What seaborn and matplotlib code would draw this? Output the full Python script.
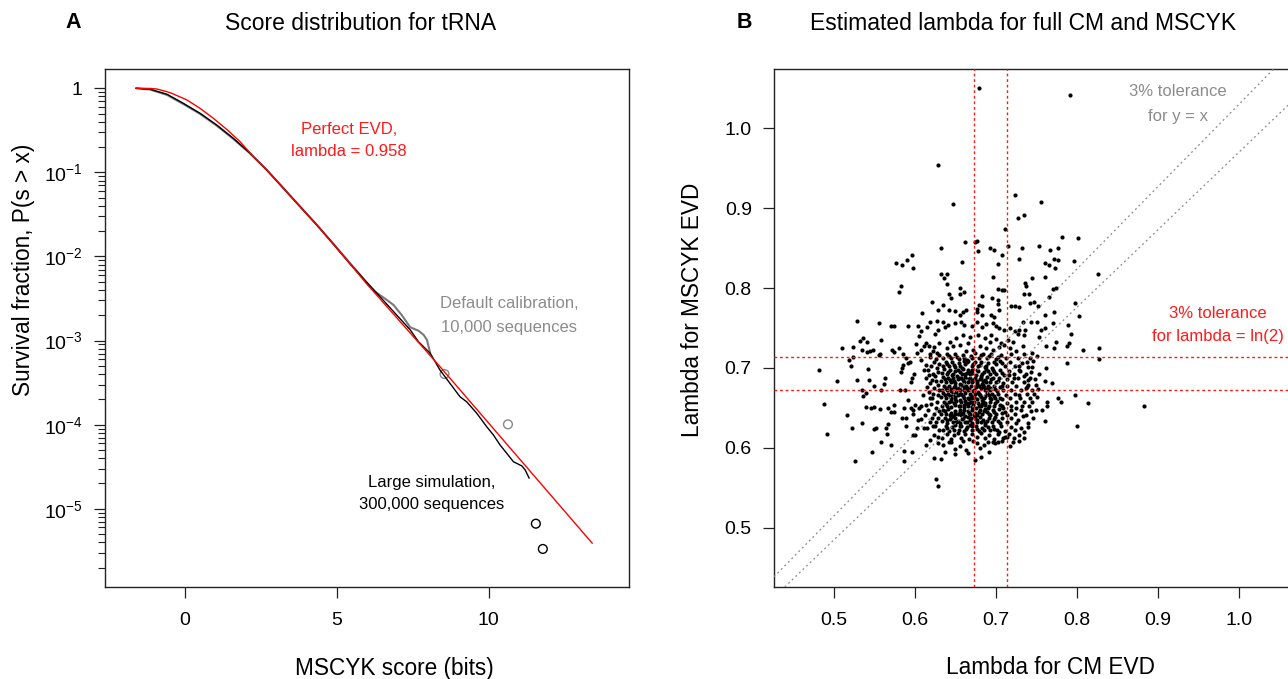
import numpy as np
import pandas as pd
import matplotlib
matplotlib.use("Agg")
import matplotlib.pyplot as plt
import seaborn as sns
from matplotlib.ticker import FixedLocator, NullFormatter, LogLocator, FixedFormatter

# ---------------- Panel A data ----------------
red_score = [-1.62, -1.15, -0.93, -0.60, -0.44, -0.06, 0.06, 0.49, 0.93, 1.37, 1.81, 2.25,
             2.69, 3.24, 3.79, 4.34, 4.89, 5.44, 5.99, 8.40, 13.42]
red_surv = [1.0, 0.995, 0.98, 0.911, 0.87, 0.76, 0.726, 0.578, 0.440, 0.325, 0.232, 0.154,
            0.107, 0.0647, 0.0391, 0.0237, 0.01396, 0.00814, 0.00471, 0.00049, 3.89e-6]

black_score = [-1.62, -1.15, -0.60, -0.06, 0.49, 1.04, 1.59, 2.14, 2.69, 3.24, 3.79, 4.34,
               4.89, 5.44, 5.77, 6.32, 6.87, 7.42, 7.69, 8.08, 8.40, 8.73, 9.06, 9.28, 9.61,
               9.94, 10.16, 10.38, 10.60, 10.82, 11.10, 11.21, 11.34]
black_surv = [1.0, 0.973, 0.849, 0.663, 0.505, 0.366, 0.254, 0.169, 0.107, 0.0647, 0.0391,
              0.0237, 0.0140, 0.00814, 0.00603, 0.00365, 0.00221, 0.00134, 0.00097, 0.000706,
              0.000447, 0.00031, 0.000215, 0.000187, 0.000137, 9.46e-5, 7.55e-5, 5.74e-5,
              4.57e-5, 3.63e-5, 3.23e-5, 2.89e-5, 2.31e-5]

gray_score = [-1.62, -1.15, -0.60, -0.06, 0.49, 1.04, 1.59, 2.14, 2.69, 3.24, 3.79, 4.34, 4.89,
              5.44, 5.77, 5.99, 6.26, 6.65, 6.87, 7.14, 7.42, 7.69, 7.86, 7.97, 8.08]
gray_surv = [1.0, 0.965, 0.835, 0.65, 0.497, 0.36, 0.25, 0.168, 0.107, 0.065, 0.0393, 0.0238,
             0.0141, 0.0083, 0.00603, 0.0048, 0.00382, 0.00304, 0.00265, 0.00201, 0.00144,
             0.00131, 0.00117, 0.00102, 0.000706]

gray_tail_score = [8.55, 10.64]
gray_tail_surv = [4.0e-4, 1.01e-4]
black_tail_score = [11.56, 11.79]
black_tail_surv = [6.65e-6, 3.33e-6]

surv_ticks = [1, 1e-1, 1e-2, 1e-3, 1e-4, 1e-5]
surv_tick_labels = ["1", r"$10^{-1}$", r"$10^{-2}$", r"$10^{-3}$", r"$10^{-4}$", r"$10^{-5}$"]
score_ticks = [0, 5, 10]

# ---------------- Panel B data: (lambda CM, lambda MSCYK) ----------------
upper_pts = [
    (0.679, 1.050), (0.791, 1.042), (0.629, 0.954), (0.647, 0.905), (0.723, 0.916), (0.756, 0.907),
    (0.727, 0.888), (0.735, 0.891), (0.711, 0.874), (0.782, 0.864), (0.801, 0.863), (0.662, 0.858),
    (0.674, 0.857), (0.677, 0.859), (0.632, 0.850), (0.678, 0.846), (0.693, 0.850), (0.698, 0.847),
    (0.715, 0.853), (0.732, 0.850), (0.753, 0.852), (0.777, 0.850), (0.767, 0.847), (0.772, 0.836),
    (0.776, 0.835), (0.796, 0.834), (0.760, 0.831), (0.765, 0.829), (0.773, 0.825), (0.728, 0.836),
    (0.708, 0.841), (0.703, 0.830), (0.658, 0.832), (0.696, 0.814), (0.632, 0.818), (0.636, 0.813),
    (0.640, 0.818), (0.639, 0.805), (0.656, 0.800), (0.655, 0.792), (0.642, 0.793), (0.661, 0.795),
    (0.683, 0.790), (0.695, 0.788), (0.703, 0.799), (0.708, 0.798), (0.710, 0.797), (0.703, 0.785),
    (0.703, 0.780), (0.719, 0.778), (0.723, 0.777), (0.728, 0.776), (0.736, 0.806), (0.737, 0.802),
    (0.741, 0.793), (0.734, 0.793), (0.744, 0.812), (0.760, 0.814), (0.770, 0.799), (0.774, 0.800),
    (0.747, 0.782), (0.752, 0.778), (0.742, 0.781), (0.765, 0.789), (0.797, 0.781), (0.803, 0.765),
    (0.772, 0.770), (0.760, 0.766), (0.770, 0.756), (0.751, 0.757), (0.743, 0.758), (0.789, 0.754),
    (0.792, 0.743), (0.790, 0.731), (0.788, 0.728), (0.808, 0.723), (0.774, 0.732), (0.772, 0.725),
    (0.762, 0.728), (0.753, 0.739), (0.755, 0.748), (0.761, 0.750), (0.733, 0.757), (0.729, 0.748),
    (0.736, 0.748), (0.735, 0.741), (0.727, 0.743), (0.826, 0.818),
    (0.596, 0.841), (0.590, 0.835), (0.576, 0.831), (0.584, 0.829), (0.597, 0.825), (0.583, 0.803),
    (0.580, 0.795), (0.621, 0.783), (0.628, 0.773), (0.609, 0.769),
]

ridge_pts = [
    (0.645, 0.787), (0.635, 0.779), (0.642, 0.773), (0.650, 0.771), (0.659, 0.770), (0.655, 0.766),
    (0.663, 0.773), (0.679, 0.779), (0.683, 0.778), (0.676, 0.774), (0.676, 0.770), (0.683, 0.766),
    (0.694, 0.766), (0.698, 0.764), (0.704, 0.773), (0.634, 0.758), (0.637, 0.751), (0.641, 0.754),
    (0.650, 0.756), (0.657, 0.758), (0.661, 0.754), (0.670, 0.752), (0.676, 0.757), (0.683, 0.751),
    (0.688, 0.755), (0.696, 0.756), (0.700, 0.752), (0.704, 0.750), (0.710, 0.748), (0.717, 0.750),
    (0.723, 0.746), (0.710, 0.729), (0.715, 0.735), (0.692, 0.733), (0.688, 0.725), (0.680, 0.727),
    (0.672, 0.723), (0.666, 0.731), (0.655, 0.729), (0.647, 0.727), (0.639, 0.725), (0.643, 0.733),
    (0.651, 0.737), (0.659, 0.741), (0.668, 0.739), (0.678, 0.741), (0.686, 0.737), (0.694, 0.741),
    (0.700, 0.736), (0.706, 0.731), (0.717, 0.725), (0.721, 0.733), (0.663, 0.721), (0.696, 0.722),
    (0.704, 0.726), (0.725, 0.721), (0.733, 0.727),
    (0.529, 0.759), (0.555, 0.756), (0.570, 0.752), (0.574, 0.753), (0.591, 0.752), (0.604, 0.752),
    (0.618, 0.758), (0.627, 0.759), (0.615, 0.751), (0.607, 0.746), (0.605, 0.740), (0.625, 0.742),
    (0.629, 0.747), (0.558, 0.735), (0.536, 0.737), (0.532, 0.734), (0.541, 0.732), (0.510, 0.725),
    (0.523, 0.726), (0.535, 0.722), (0.541, 0.720), (0.548, 0.723), (0.544, 0.721), (0.572, 0.722),
    (0.574, 0.720), (0.580, 0.725), (0.557, 0.718), (0.601, 0.730), (0.613, 0.731), (0.611, 0.727),
    (0.617, 0.727), (0.624, 0.726), (0.630, 0.731), (0.603, 0.719), (0.608, 0.722), (0.619, 0.717),
    (0.622, 0.721), (0.627, 0.719), (0.556, 0.716), (0.585, 0.718),
]

left_pts = [
    (0.481, 0.698), (0.519, 0.710), (0.524, 0.714), (0.521, 0.702), (0.504, 0.684), (0.529, 0.685),
    (0.542, 0.699), (0.543, 0.685), (0.534, 0.673), (0.536, 0.665), (0.540, 0.669), (0.549, 0.678),
    (0.558, 0.672), (0.562, 0.680), (0.563, 0.687), (0.488, 0.655), (0.492, 0.618), (0.516, 0.641),
    (0.522, 0.625), (0.526, 0.583), (0.535, 0.631), (0.539, 0.651), (0.546, 0.650), (0.550, 0.651),
    (0.549, 0.624), (0.552, 0.625), (0.547, 0.595), (0.558, 0.607), (0.557, 0.649), (0.567, 0.650),
    (0.571, 0.645), (0.574, 0.645), (0.574, 0.654), (0.564, 0.625), (0.567, 0.630), (0.566, 0.618),
    (0.571, 0.604), (0.586, 0.583), (0.586, 0.596), (0.596, 0.595),
    (0.583, 0.695), (0.584, 0.700), (0.585, 0.704), (0.589, 0.713), (0.592, 0.706), (0.594, 0.707),
    (0.596, 0.687), (0.595, 0.683), (0.599, 0.693), (0.588, 0.673), (0.582, 0.673), (0.591, 0.660),
    (0.587, 0.650), (0.584, 0.638), (0.589, 0.637), (0.595, 0.650), (0.597, 0.642), (0.598, 0.647),
    (0.600, 0.654), (0.605, 0.650), (0.607, 0.652), (0.604, 0.635), (0.608, 0.636), (0.611, 0.625),
    (0.615, 0.625), (0.603, 0.625), (0.600, 0.616), (0.597, 0.616), (0.589, 0.627), (0.613, 0.604),
    (0.618, 0.610), (0.624, 0.616), (0.628, 0.606),
    (0.608, 0.710), (0.614, 0.704), (0.611, 0.698), (0.617, 0.691), (0.621, 0.685), (0.613, 0.687),
    (0.624, 0.708), (0.627, 0.700), (0.629, 0.679), (0.624, 0.675), (0.617, 0.670), (0.610, 0.666),
    (0.621, 0.662), (0.627, 0.658), (0.614, 0.654), (0.623, 0.643), (0.629, 0.637), (0.619, 0.633),
    (0.625, 0.627),
    (0.612, 0.641), (0.616, 0.648), (0.620, 0.655), (0.618, 0.662), (0.622, 0.668), (0.615, 0.676),
    (0.619, 0.681), (0.626, 0.684), (0.622, 0.692), (0.616, 0.697), (0.628, 0.695), (0.620, 0.702),
    (0.626, 0.711), (0.618, 0.714), (0.630, 0.716), (0.626, 0.650), (0.630, 0.646), (0.628, 0.666),
    (0.630, 0.672), (0.625, 0.690), (0.630, 0.705), (0.621, 0.638), (0.626, 0.633), (0.630, 0.622),
    (0.622, 0.628), (0.628, 0.614),
]

right_pts = [
    (0.788, 0.706), (0.762, 0.700), (0.769, 0.681), (0.760, 0.684), (0.752, 0.674), (0.777, 0.662),
    (0.780, 0.657), (0.797, 0.666), (0.813, 0.656), (0.800, 0.628), (0.763, 0.658), (0.763, 0.652),
    (0.761, 0.634), (0.749, 0.647), (0.757, 0.648), (0.751, 0.664), (0.740, 0.631), (0.735, 0.620),
    (0.729, 0.616), (0.725, 0.631), (0.737, 0.641), (0.717, 0.603), (0.713, 0.614), (0.748, 0.686),
    (0.743, 0.695), (0.746, 0.709), (0.827, 0.725), (0.827, 0.711), (0.883, 0.652), (0.747, 0.668),
    (0.722, 0.687), (0.716, 0.691), (0.737, 0.675), (0.740, 0.679), (0.739, 0.685), (0.735, 0.690),
    (0.730, 0.696), (0.728, 0.702), (0.735, 0.658), (0.742, 0.663), (0.729, 0.666), (0.725, 0.650),
    (0.733, 0.640),
    (0.741, 0.652), (0.745, 0.657), (0.744, 0.672), (0.749, 0.679), (0.742, 0.688), (0.753, 0.692),
    (0.745, 0.701), (0.751, 0.715), (0.744, 0.719), (0.738, 0.708), (0.743, 0.646), (0.739, 0.626),
    (0.746, 0.637), (0.731, 0.625), (0.728, 0.609), (0.734, 0.612),
]

bottom_pts = [
    (0.626, 0.561), (0.628, 0.552), (0.624, 0.588), (0.632, 0.586), (0.649, 0.593), (0.663, 0.598),
    (0.665, 0.594), (0.674, 0.585), (0.681, 0.589), (0.691, 0.595), (0.637, 0.595), (0.634, 0.604),
    (0.642, 0.607), (0.650, 0.599), (0.656, 0.602), (0.676, 0.606), (0.680, 0.600), (0.685, 0.604),
    (0.690, 0.607), (0.696, 0.608), (0.702, 0.607), (0.707, 0.609), (0.711, 0.614),
    (0.645, 0.608), (0.659, 0.609), (0.672, 0.609), (0.699, 0.606), (0.721, 0.608),
]

core_pts = [
    (0.633, 0.612), (0.639, 0.618), (0.644, 0.611), (0.648, 0.616), (0.653, 0.619), (0.657, 0.613),
    (0.662, 0.617), (0.667, 0.611), (0.671, 0.618), (0.676, 0.614), (0.681, 0.619), (0.686, 0.612),
    (0.691, 0.616), (0.697, 0.611), (0.703, 0.618), (0.709, 0.613), (0.716, 0.617), (0.722, 0.612),
    (0.634, 0.623), (0.638, 0.628), (0.642, 0.621), (0.646, 0.626), (0.650, 0.629), (0.654, 0.622),
    (0.657, 0.627), (0.661, 0.621), (0.664, 0.626), (0.668, 0.629), (0.671, 0.623), (0.675, 0.627),
    (0.679, 0.621), (0.683, 0.625), (0.687, 0.629), (0.692, 0.622), (0.696, 0.627), (0.701, 0.623),
    (0.706, 0.628), (0.711, 0.621), (0.718, 0.626), (0.724, 0.623),
    (0.633, 0.634), (0.637, 0.638), (0.640, 0.631), (0.643, 0.636), (0.647, 0.632), (0.650, 0.638),
    (0.653, 0.634), (0.656, 0.631), (0.659, 0.637), (0.662, 0.633), (0.665, 0.639), (0.668, 0.635),
    (0.671, 0.631), (0.674, 0.637), (0.677, 0.633), (0.680, 0.639), (0.684, 0.635), (0.687, 0.631),
    (0.691, 0.637), (0.695, 0.633), (0.699, 0.639), (0.703, 0.634), (0.708, 0.638), (0.713, 0.632),
    (0.719, 0.637), (0.727, 0.635),
    (0.632, 0.642), (0.635, 0.647), (0.638, 0.643), (0.641, 0.649), (0.644, 0.644), (0.647, 0.640),
    (0.650, 0.646), (0.653, 0.642), (0.656, 0.648), (0.659, 0.644), (0.662, 0.640), (0.665, 0.646),
    (0.668, 0.642), (0.671, 0.648), (0.674, 0.644), (0.677, 0.641), (0.680, 0.647), (0.683, 0.643),
    (0.686, 0.649), (0.689, 0.645), (0.692, 0.641), (0.696, 0.647), (0.700, 0.643), (0.704, 0.649),
    (0.708, 0.644), (0.713, 0.641), (0.718, 0.647), (0.724, 0.643), (0.731, 0.648), (0.657, 0.641),
    (0.633, 0.653), (0.636, 0.658), (0.639, 0.652), (0.642, 0.657), (0.645, 0.651), (0.648, 0.656),
    (0.651, 0.659), (0.654, 0.653), (0.657, 0.657), (0.660, 0.651), (0.663, 0.656), (0.666, 0.652),
    (0.669, 0.658), (0.672, 0.654), (0.675, 0.650), (0.678, 0.656), (0.681, 0.652), (0.684, 0.658),
    (0.687, 0.654), (0.690, 0.650), (0.693, 0.657), (0.697, 0.653), (0.701, 0.659), (0.705, 0.654),
    (0.709, 0.650), (0.714, 0.656), (0.719, 0.652), (0.725, 0.657), (0.732, 0.653), (0.662, 0.659),
    (0.671, 0.651), (0.686, 0.656),
    (0.632, 0.664), (0.635, 0.669), (0.638, 0.663), (0.641, 0.668), (0.644, 0.662), (0.647, 0.667),
    (0.650, 0.661), (0.653, 0.666), (0.656, 0.660), (0.659, 0.665), (0.662, 0.669), (0.665, 0.663),
    (0.668, 0.668), (0.671, 0.662), (0.674, 0.667), (0.677, 0.661), (0.680, 0.666), (0.683, 0.660),
    (0.686, 0.665), (0.689, 0.669), (0.692, 0.663), (0.695, 0.668), (0.699, 0.662), (0.703, 0.667),
    (0.707, 0.661), (0.712, 0.666), (0.717, 0.662), (0.723, 0.667), (0.730, 0.663), (0.738, 0.668),
    (0.657, 0.668), (0.669, 0.665), (0.681, 0.664), (0.694, 0.661),
    (0.633, 0.673), (0.636, 0.678), (0.639, 0.672), (0.642, 0.677), (0.645, 0.671), (0.648, 0.676),
    (0.651, 0.670), (0.654, 0.675), (0.657, 0.679), (0.660, 0.673), (0.663, 0.678), (0.666, 0.672),
    (0.669, 0.677), (0.672, 0.671), (0.675, 0.676), (0.678, 0.670), (0.681, 0.675), (0.684, 0.679),
    (0.687, 0.673), (0.690, 0.678), (0.693, 0.672), (0.697, 0.677), (0.701, 0.671), (0.705, 0.676),
    (0.709, 0.672), (0.714, 0.678), (0.719, 0.673), (0.725, 0.677), (0.731, 0.672), (0.738, 0.676),
    (0.652, 0.674), (0.664, 0.675), (0.677, 0.679), (0.689, 0.674),
    (0.632, 0.684), (0.635, 0.689), (0.638, 0.683), (0.641, 0.688), (0.644, 0.682), (0.647, 0.687),
    (0.650, 0.681), (0.653, 0.686), (0.656, 0.680), (0.659, 0.685), (0.662, 0.689), (0.665, 0.683),
    (0.668, 0.688), (0.671, 0.682), (0.674, 0.687), (0.677, 0.681), (0.680, 0.686), (0.683, 0.680),
    (0.686, 0.685), (0.689, 0.689), (0.692, 0.683), (0.696, 0.688), (0.700, 0.682), (0.704, 0.687),
    (0.709, 0.681), (0.714, 0.686), (0.720, 0.682), (0.727, 0.687), (0.734, 0.683), (0.657, 0.688),
    (0.672, 0.685), (0.684, 0.684),
    (0.633, 0.694), (0.636, 0.699), (0.639, 0.692), (0.643, 0.697), (0.646, 0.691), (0.649, 0.696),
    (0.652, 0.690), (0.655, 0.695), (0.659, 0.699), (0.662, 0.693), (0.665, 0.698), (0.668, 0.692),
    (0.671, 0.697), (0.675, 0.691), (0.678, 0.696), (0.681, 0.690), (0.685, 0.695), (0.688, 0.699),
    (0.692, 0.693), (0.696, 0.698), (0.700, 0.692), (0.705, 0.697), (0.710, 0.691), (0.716, 0.696),
    (0.722, 0.692), (0.729, 0.697), (0.737, 0.693), (0.667, 0.695),
    (0.634, 0.703), (0.638, 0.708), (0.642, 0.702), (0.646, 0.707), (0.650, 0.701), (0.654, 0.706),
    (0.658, 0.700), (0.662, 0.705), (0.666, 0.709), (0.670, 0.703), (0.674, 0.708), (0.678, 0.702),
    (0.682, 0.707), (0.686, 0.701), (0.690, 0.706), (0.695, 0.700), (0.700, 0.705), (0.705, 0.709),
    (0.711, 0.703), (0.717, 0.708), (0.724, 0.702), (0.732, 0.706), (0.740, 0.701), (0.660, 0.709),
    (0.634, 0.713), (0.639, 0.718), (0.644, 0.712), (0.649, 0.717), (0.654, 0.711), (0.659, 0.716),
    (0.664, 0.710), (0.669, 0.715), (0.674, 0.719), (0.679, 0.713), (0.684, 0.718), (0.689, 0.712),
    (0.694, 0.717), (0.700, 0.711), (0.706, 0.716), (0.712, 0.712), (0.719, 0.717), (0.727, 0.713),
    (0.735, 0.718), (0.742, 0.712),
]

core_fill_pts = [
    (0.640, 0.625), (0.648, 0.623), (0.655, 0.628), (0.663, 0.624), (0.670, 0.627), (0.677, 0.624),
    (0.685, 0.622), (0.690, 0.626), (0.698, 0.624), (0.704, 0.620),
    (0.639, 0.635), (0.645, 0.639), (0.651, 0.633), (0.658, 0.636), (0.664, 0.632), (0.669, 0.638),
    (0.676, 0.635), (0.682, 0.632), (0.689, 0.634), (0.697, 0.636), (0.705, 0.631),
    (0.637, 0.646), (0.643, 0.641), (0.649, 0.643), (0.655, 0.645), (0.661, 0.647), (0.667, 0.644),
    (0.673, 0.641), (0.679, 0.645), (0.685, 0.646), (0.691, 0.643), (0.698, 0.645), (0.711, 0.645),
    (0.638, 0.655), (0.644, 0.659), (0.650, 0.654), (0.656, 0.652), (0.661, 0.654), (0.667, 0.656),
    (0.673, 0.658), (0.679, 0.653), (0.683, 0.655), (0.691, 0.653), (0.699, 0.656), (0.707, 0.652),
    (0.637, 0.666), (0.643, 0.665), (0.649, 0.664), (0.655, 0.667), (0.661, 0.662), (0.667, 0.661),
    (0.673, 0.664), (0.679, 0.668), (0.685, 0.662), (0.691, 0.666), (0.697, 0.665), (0.705, 0.663),
    (0.638, 0.675), (0.644, 0.674), (0.650, 0.677), (0.655, 0.672), (0.661, 0.676), (0.667, 0.674),
    (0.673, 0.673), (0.679, 0.677), (0.685, 0.676), (0.692, 0.675), (0.699, 0.674), (0.707, 0.678),
    (0.637, 0.686), (0.643, 0.685), (0.648, 0.684), (0.654, 0.688), (0.660, 0.683), (0.666, 0.686),
    (0.670, 0.684), (0.676, 0.684), (0.682, 0.688), (0.688, 0.682), (0.694, 0.686), (0.702, 0.684),
    (0.641, 0.695), (0.647, 0.693), (0.653, 0.697), (0.658, 0.692), (0.664, 0.694), (0.670, 0.694),
    (0.676, 0.698), (0.683, 0.693), (0.690, 0.696), (0.698, 0.695), (0.707, 0.694),
    (0.640, 0.705), (0.648, 0.704), (0.656, 0.703), (0.664, 0.707), (0.672, 0.705), (0.680, 0.704),
    (0.688, 0.703), (0.697, 0.708), (0.708, 0.706),
    (0.642, 0.715), (0.652, 0.714), (0.661, 0.713), (0.671, 0.712), (0.681, 0.716), (0.691, 0.715),
    (0.703, 0.714),
]

lambda_ticks = [0.5, 0.6, 0.7, 0.8, 0.9, 1.0]
tolerance = [0.97, 1.03]

# ---------------- style ----------------
sns.set_theme(style="ticks")
plt.rcParams['font.family'] = ['Liberation Sans', 'DejaVu Sans']
plt.rcParams['mathtext.fontset'] = 'custom'
plt.rcParams['mathtext.rm'] = 'Liberation Sans'
plt.rcParams['mathtext.it'] = 'Liberation Sans:italic'
plt.rcParams['mathtext.bf'] = 'Liberation Sans:bold'
plt.rcParams['text.color'] = 'black'

W, H = 1288, 679
fig = plt.figure(figsize=(W / 100, H / 100), dpi=100)
fig.patch.set_facecolor('white')


def fx(px):
    return px / W


def fy(py):
    return 1 - py / H


axL = fig.add_axes([fx(105), fy(587), (629 - 105) / W, (587 - 69) / H])
axR = fig.add_axes([fx(774), fy(587), (1299 - 774) / W, (587 - 69) / H])

# ---------------- Panel A ----------------
sns.lineplot(x=gray_score, y=gray_surv, ax=axL, color='#7a7a7a', linewidth=1.5,
             sort=False, estimator=None)
sns.lineplot(x=black_score, y=black_surv, ax=axL, color='black', linewidth=1.0,
             sort=False, estimator=None)
sns.lineplot(x=red_score, y=red_surv, ax=axL, color='#ff0000', linewidth=1.0,
             sort=False, estimator=None)
sns.scatterplot(x=gray_tail_score, y=gray_tail_surv, ax=axL, s=40, color='none',
                edgecolor='#888888', linewidth=1.0, marker='o')
sns.scatterplot(x=black_tail_score, y=black_tail_surv, ax=axL, s=40, color='none',
                edgecolor='black', linewidth=1.0, marker='o')
axL.set_yscale('log')
axL.set_xlim(-2.64, 14.63)
axL.set_ylim(1.175e-6, 1.695)
axL.yaxis.set_major_locator(FixedLocator(surv_ticks))
axL.yaxis.set_major_formatter(FixedFormatter(surv_tick_labels))
axL.yaxis.set_minor_locator(LogLocator(base=10, subs=[2, 3, 4, 5, 6, 7, 8, 9], numticks=20))
axL.yaxis.set_minor_formatter(NullFormatter())
axL.xaxis.set_major_locator(FixedLocator(score_ticks))
axL.set_xlabel('')
axL.set_ylabel('')

# ---------------- Panel B ----------------
scatter_pts = upper_pts + ridge_pts + left_pts + right_pts + bottom_pts + core_pts + core_fill_pts
df = pd.DataFrame(scatter_pts, columns=['cm', 'mscyk'])
sns.scatterplot(data=df, x='cm', y='mscyk', ax=axR, s=9, color='black', linewidth=0,
                legend=False, zorder=2)
ln2 = np.log(2)
for t in tolerance:
    axR.axvline(ln2 * t, color='#ff1a1a', linestyle=(0, (2, 2)), linewidth=1.0, zorder=3)
    axR.axhline(ln2 * t, color='#ff1a1a', linestyle=(0, (2, 2)), linewidth=1.0, zorder=3)
    axR.axline((0, 0), slope=t, color='#8a8a8a', linestyle=(0, (1.5, 2.5)), linewidth=0.9,
               zorder=3)
axR.set_xlim(0.426, 1.074)
axR.set_ylim(0.426, 1.074)
axR.xaxis.set_major_locator(FixedLocator(lambda_ticks))
axR.yaxis.set_major_locator(FixedLocator(lambda_ticks))
axR.xaxis.set_major_formatter(FixedFormatter(['%.1f' % v for v in lambda_ticks]))
axR.yaxis.set_major_formatter(FixedFormatter(['%.1f' % v for v in lambda_ticks]))
axR.set_xlabel('')
axR.set_ylabel('')
axR.spines['right'].set_visible(False)

for ax in (axL, axR):
    for sp in ax.spines.values():
        sp.set_color('#222222')
        sp.set_linewidth(1.0)
    ax.tick_params(axis='both', which='major', direction='out', length=8, width=0.9,
                   color='#222222', labelsize=14, labelcolor='black')
    ax.tick_params(axis='x', which='major', pad=10)
    ax.tick_params(axis='y', which='major', pad=8)
    ax.tick_params(axis='y', which='minor', direction='out', length=5, width=0.8, color='#222222')
    ax.set_facecolor('white')
    ax.grid(False)

# ---------------- text ----------------
def put(px, py, s, **kw):
    kw.setdefault('color', 'black')
    fig.text(fx(px), fy(py), s, ha='center', va='center', **kw)


put(73, 23, 'A', fontsize=15.5, fontweight='bold')
put(361, 23, 'Score distribution for tRNA', fontsize=16.5)
put(744, 23, 'B', fontsize=15.5, fontweight='bold')
put(1023, 23, 'Estimated lambda for full CM and MSCYK', fontsize=16.5)
put(394, 668, 'MSCYK score (bits)', fontsize=16.3)
put(1051, 668, 'Lambda for CM EVD', fontsize=16.3)
put(24, 270, 'Survival fraction, P(s > x)', fontsize=16.3, rotation=90)
put(693, 310, 'Lambda for MSCYK EVD', fontsize=16.3, rotation=90)

put(349, 129, 'Perfect EVD,', fontsize=12, color='#ff1a1a')
put(349, 152, 'lambda = 0.958', fontsize=12, color='#ff1a1a')
put(509, 304, 'Default calibration,', fontsize=12, color='#8c8c8c')
put(509, 327, '10,000 sequences', fontsize=12, color='#8c8c8c')
put(432, 483, 'Large simulation,', fontsize=12)
put(432, 505, '300,000 sequences', fontsize=12)
put(1178, 92, '3% tolerance', fontsize=12, color='#8c8c8c')
put(1178, 116, 'for y = x', fontsize=12, color='#8c8c8c')
put(1218, 313, '3% tolerance', fontsize=12, color='#ff1a1a')
put(1218, 336, 'for lambda = ln(2)', fontsize=12, color='#ff1a1a')

fig.savefig('out.png', dpi=100, facecolor='white')
